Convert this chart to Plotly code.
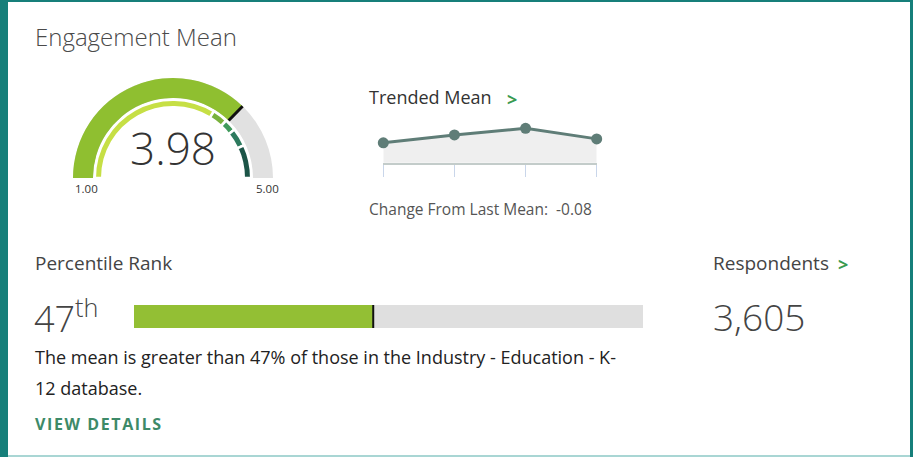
import plotly.graph_objects as go

W, H = 913, 457

# ---------------- data ----------------
engagement_mean = 3.98
gauge_range = [1.00, 5.00]
gauge_tick_labels = ["1.00", "5.00"]

# inner benchmark arc segments (value ranges) and their colours
inner_seg_start = [1.00, 3.70, 3.95, 4.15, 4.45]
inner_seg_end = [3.70, 3.95, 4.15, 4.45, 5.00]
inner_seg_colors = ["#c6df45", "#79b23c", "#3f9a5b", "#2d7a5e", "#1c5447"]

trend_periods = ["P1", "P2", "P3", "P4"]
trend_means = [3.95, 4.01, 4.06, 3.98]

percentile_rank = 47
respondents = 3605
industry = "Industry - Education - K-12"

# ---------------- helpers ----------------
def px(x):
    return x / W

def py(y):
    return 1 - y / H

fig = go.Figure()

# ---------- gauge (outer band) ----------
cx, cy = 173, 178
r_outer = 102.86
band_t = 0.778
fig.add_trace(go.Indicator(
    mode="gauge+number",
    value=engagement_mean,
    number=dict(valueformat=".2f", font=dict(size=44, color="#333333", family="Open Sans", weight=300)),
    domain=dict(x=[px(cx - r_outer), px(cx + r_outer)], y=[py(cy), py(cy - r_outer)]),
    gauge=dict(
        shape="angular",
        axis=dict(range=gauge_range, visible=False),
        bar=dict(color="#8fbf30", thickness=band_t, line=dict(width=0)),
        bgcolor="rgba(0,0,0,0)",
        borderwidth=0,
        steps=[dict(range=gauge_range, color="#e1e1e1", thickness=band_t, line=dict(width=0))],
        threshold=dict(line=dict(color="#111111", width=3), thickness=band_t, value=engagement_mean),
    ),
))

# ---------- gauge (inner thin benchmark arc) ----------
r_inner = 85.14
fig.add_trace(go.Indicator(
    mode="gauge",
    value=gauge_range[0],
    domain=dict(x=[px(cx - r_inner), px(cx + r_inner)], y=[py(cy), py(cy - r_inner)]),
    gauge=dict(
        shape="angular",
        axis=dict(range=gauge_range, visible=False),
        bar=dict(color="rgba(0,0,0,0)", thickness=0, line=dict(width=0)),
        bgcolor="rgba(0,0,0,0)",
        borderwidth=0,
        steps=[dict(range=[s, e], color=c, thickness=0.35, line=dict(color="white", width=2.5))
               for s, e, c in zip(inner_seg_start, inner_seg_end, inner_seg_colors)],
    ),
))

# ---------- trended mean ----------
fig.add_trace(go.Scatter(
    x=trend_periods, y=trend_means, mode="lines+markers",
    line=dict(color="#5f7d77", width=3),
    marker=dict(size=11, color="#5f7d77"),
    fill="tozeroy", fillcolor="#efefef",
    cliponaxis=False, xaxis="x", yaxis="y", showlegend=False, hoverinfo="skip",
))

# ---------- percentile bar ----------
fig.add_trace(go.Bar(
    x=[100], y=["rank"], orientation="h", marker=dict(color="#dfdfdf", line=dict(width=0)),
    width=1, xaxis="x2", yaxis="y2", showlegend=False, hoverinfo="skip",
))
fig.add_trace(go.Bar(
    x=[percentile_rank], y=["rank"], orientation="h", marker=dict(color="#93bf34", line=dict(width=0)),
    width=1, xaxis="x2", yaxis="y2", showlegend=False, hoverinfo="skip",
))

FONT = "Open Sans"

fig.update_layout(
    width=W, height=H,
    margin=dict(l=0, r=0, t=0, b=0),
    paper_bgcolor="white", plot_bgcolor="rgba(0,0,0,0)",
    barmode="overlay",
    font=dict(family=FONT, color="#333333"),
    xaxis=dict(domain=[px(383.3), px(596.7)], range=[0, 3], showgrid=False, zeroline=False,
               showline=True, linecolor="#c3ccca", linewidth=2,
               ticks="outside", ticklen=12, tickwidth=1, tickcolor="#c9d6ea",
               showticklabels=False, anchor="y", fixedrange=True),
    yaxis=dict(domain=[py(162.7), py(123)], range=[3.80, 4.10], visible=False, anchor="x", fixedrange=True),
    xaxis2=dict(domain=[px(134), px(643)], range=[0, 100], visible=False, anchor="y2"),
    yaxis2=dict(domain=[py(328), py(305)], range=[-0.5, 0.5], visible=False, anchor="x2"),
)

# percentile marker line
fig.add_shape(type="line", xref="x2", yref="y2 domain", x0=percentile_rank, x1=percentile_rank,
              y0=0, y1=1, line=dict(color="#111111", width=2))

# border
teal = "#167f7a"
fig.add_shape(type="rect", xref="paper", yref="paper", x0=0, x1=px(8), y0=0, y1=1, fillcolor=teal, line=dict(width=0))
fig.add_shape(type="rect", xref="paper", yref="paper", x0=px(910), x1=1, y0=0, y1=1, fillcolor=teal, line=dict(width=0))
fig.add_shape(type="rect", xref="paper", yref="paper", x0=0, x1=1, y0=py(2), y1=1, fillcolor=teal, line=dict(width=0))
fig.add_shape(type="rect", xref="paper", yref="paper", x0=px(8), x1=px(910), y0=0, y1=py(455), fillcolor="#a9d6d4", line=dict(width=0))

def text(x, y, s, size, color="#444444", bold=False, family=FONT, anchor="left", weight=None):
    f = dict(size=size, color=color, family=family)
    if weight is not None:
        f["weight"] = weight
    fig.add_annotation(x=px(x), y=py(y), xref="paper", yref="paper", text=(f"<b>{s}</b>" if bold else s),
                       showarrow=False, xanchor=anchor, yanchor="middle", font=f)

green_chev = "#3a9a50"
change = trend_means[-1] - trend_means[-2]

text(33, 36, "Engagement Mean", 24, "#4a4a4a", weight=300)
text(73, 188, gauge_tick_labels[0], 11.5, "#333333")
text(281, 188, gauge_tick_labels[1], 11.5, "#333333", anchor="right")
text(367, 97, "Trended Mean", 18, "#333333")
text(505, 99, ">", 18, green_chev, bold=True)
text(367, 209, f"Change From Last Mean:  {change:.2f}", 15.5, "#555555")
text(33, 263, "Percentile Rank", 19, "#444444")
text(32, 316, f"{percentile_rank}<sup>th</sup>", 36, "#444444", weight=300)
text(711, 263, "Respondents", 19, "#444444")
text(836, 264, ">", 18, green_chev, bold=True)
text(711, 316, f"{respondents:,}", 37, "#444444", weight=300)
text(33, 357, f"The mean is greater than {percentile_rank}% of those in the {industry[:-2]}", 18, "#222222")
text(33, 388, f"{industry[-2:]} database.", 18, "#222222")
text(33, 424, "\u200a".join("VIEW DETAILS"), 16, "#3d8a68", bold=True)

fig.write_html("out.html", config={"displayModeBar": False},
               post_script="document.body.style.margin='0';document.body.style.padding='0';")
